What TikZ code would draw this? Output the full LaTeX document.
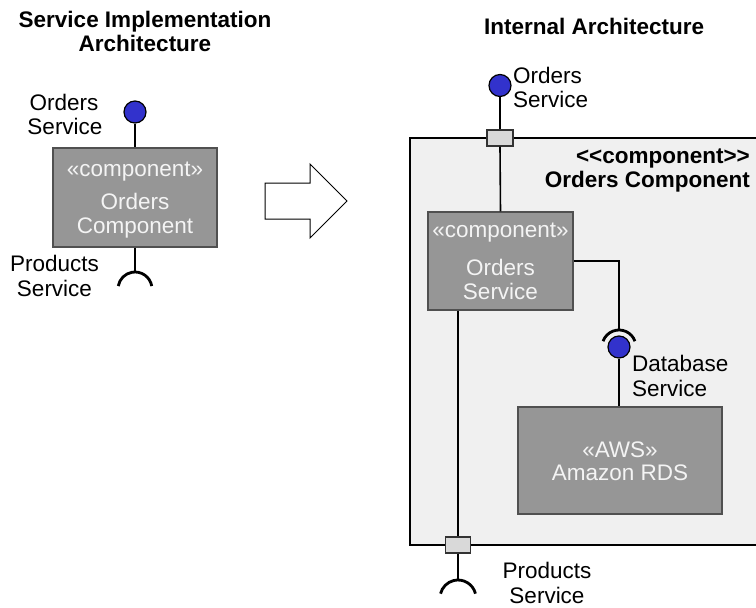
\documentclass[tikz,border=0pt]{standalone}
\usepackage{fontspec}
\setmainfont{Liberation Sans}
\definecolor{compfill}{HTML}{969696}
\definecolor{compline}{HTML}{505050}
\definecolor{comptext}{HTML}{F4F4F4}
\definecolor{ifblue}{HTML}{3232CC}
\definecolor{portfill}{HTML}{D9D9D9}
\definecolor{outerfill}{HTML}{F0F0F0}
\begin{document}
\begin{tikzpicture}[x=1pt,y=-1pt,
  txt/.style={font=\fontsize{22.5}{24}\selectfont, inner sep=0pt, anchor=base},
  ttl/.style={txt, font=\fontsize{22.5}{24}\selectfont\bfseries},
  intxt/.style={txt, text=comptext},
  comp/.style={draw=compline, line width=1.2pt, fill=compfill, rectangle, inner sep=0pt},
  provided/.style={circle, draw=black, line width=1.2pt, fill=ifblue, minimum size=22pt, inner sep=0pt},
  portbox/.style={rectangle, draw=black!80, line width=1.2pt, fill=portfill, inner sep=0pt, minimum width=26pt, minimum height=16pt},
  wire/.style={line width=1.6pt},
  socket/.style={line width=2.8pt},
]
\useasboundingbox (0,0) rectangle (756,608);
\clip (0,0) rectangle (756,608);

% ---------- left: service implementation ----------
\node[ttl] (ltitleA) at (145,27) {Service Implementation};
\node[ttl] (ltitleB) at (145,51) {Architecture};

\node[provided] (lprov) at (135,112) {};
\node[txt] (lprovA) at (64,110) {Orders};
\node[txt] (lprovB) at (65,134) {Service};

\node[comp, minimum width=164pt, minimum height=99pt] (lbox) at (135,197.5) {};
\node[intxt] (lboxA) at (135,176) {«component»};
\node[intxt] (lboxB) at (135,209) {Orders};
\node[intxt] (lboxC) at (135,233) {Component};

\coordinate (lsock) at (135,272);
\node[txt] (lreqA) at (54.5,271) {Products};
\node[txt] (lreqB) at (54.5,296) {Service};

\draw[wire] (lprov.south) -- (lbox.north);
\draw[wire] (lbox.south) -- (lsock);
\draw[socket] ([shift={(10:17pt)}]135,289) arc[start angle=10, end angle=170, radius=17pt];

% ---------- block arrow ----------
\draw[line width=1pt, fill=white, line join=miter]
  (265,183) -- (310,183) -- (310,164) -- (347,201) -- (310,238) -- (310,219) -- (265,219) -- cycle;

% ---------- right: internal architecture ----------
\node[ttl, anchor=base west] (rtitle) at (484,34) {Internal Architecture};

\node[draw=black, line width=1.8pt, fill=outerfill, rectangle, inner sep=0pt,
      minimum width=370pt, minimum height=407pt] (outer) at (595,341.5) {};
\node[ttl, anchor=base east] (outerA) at (750,163) {<\kern0pt<component>\kern0pt>};
\node[ttl, anchor=base east] (outerB) at (750,187) {Orders Component};

\node[provided] (rprov) at (500,85.5) {};
\node[txt, anchor=base west] (rprovA) at (513,83) {Orders};
\node[txt, anchor=base west] (rprovB) at (513,107) {Service};
\node[portbox] (tport) at (500,138) {};

\node[comp, minimum width=145pt, minimum height=98pt] (osvc) at (500.5,261) {};
\node[intxt] (osvcA) at (500.5,237) {«component»};
\node[intxt] (osvcB) at (500.5,275) {Orders};
\node[intxt] (osvcC) at (500.5,299) {Service};

\coordinate (dbsock) at (619,330);
\node[provided] (dbprov) at (619,347) {};
\node[txt, anchor=base west] (dbA) at (632,371) {Database};
\node[txt, anchor=base west] (dbB) at (632,396) {Service};

\node[comp, minimum width=204pt, minimum height=107pt] (rds) at (620,460.5) {};
\node[intxt] (rdsA) at (620,457) {«AWS»};
\node[intxt] (rdsB) at (620,480) {Amazon RDS};

\node[portbox, minimum width=25pt] (bport) at (458,545) {};
\coordinate (bsock) at (458,580);
\node[txt] (rreqA) at (547,578) {Products};
\node[txt] (rreqB) at (547,603) {Service};

% connectors
\draw[wire] (rprov.south) -- (tport.north);
\draw[wire] (tport.south) -- (osvc.north);
\draw[wire] (osvc.east) -| (dbsock);
\draw[socket] ([shift={(20:17pt)}]619,347) arc[start angle=20, end angle=160, radius=17pt];
\draw[wire] (dbprov.south) -- (dbprov.south |- rds.north);
\draw[wire] (bport.north |- osvc.south) -- (bport.north);
\draw[wire] (bport.south) -- (bsock);
\draw[socket] ([shift={(14:18pt)}]458,598) arc[start angle=14, end angle=166, radius=18pt];
\end{tikzpicture}
\end{document}
